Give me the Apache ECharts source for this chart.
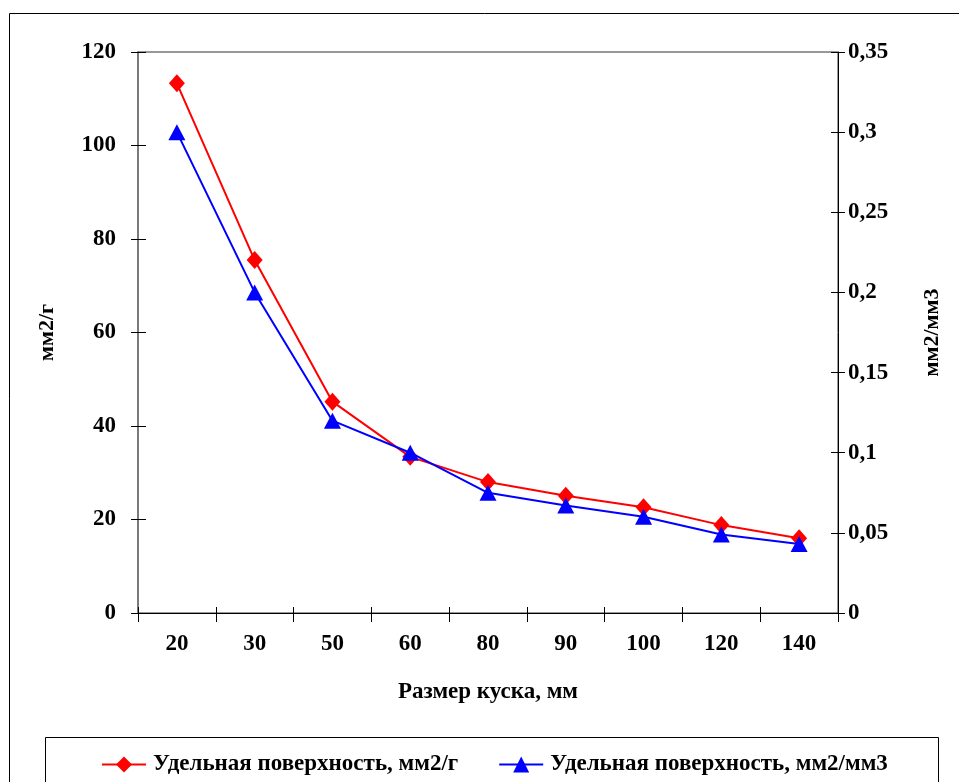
<!DOCTYPE html>
<html>
<head>
<meta charset="utf-8">
<script src="https://cdn.jsdelivr.net/npm/echarts@6/dist/echarts.min.js"></script>
<style>
  html, body { margin: 0; padding: 0; background: #fff; }
  #chart { width: 959px; height: 782px; }
</style>
</head>
<body>
<div id="chart"></div>
<script>
// Piece sizes, mm
const categories = ['20', '30', '50', '60', '80', '90', '100', '120', '140'];
// Specific surface per gram, mm2/g (left axis)
const surfacePerGram = [113.3, 75.5, 45.2, 33.4, 28.0, 25.1, 22.6, 18.8, 16.0];
// Specific surface per volume, mm2/mm3 (right axis)
const surfacePerVolume = [0.3, 0.2, 0.12, 0.1, 0.075, 0.067, 0.06, 0.049, 0.043];

const seriesNames = ['Удельная поверхность, мм2/г', 'Удельная поверхность, мм2/мм3'];
const xTitle = 'Размер куска, мм';
const leftTitle = 'мм2/г';
const rightTitle = 'мм2/мм3';

const FONT = '"Liberation Serif", "Times New Roman", serif';
const textBase = { fontFamily: FONT, fontWeight: 'bold', fontSize: 23, color: '#000' };

const chart = echarts.init(document.getElementById('chart'), null, { renderer: 'canvas' });

const commaFmt = v => String(v).replace('.', ',');

chart.setOption({
  animation: false,
  backgroundColor: '#fff',
  graphic: [
    // outer frame
    { type: 'rect', left: 7, top: 11, shape: { width: 980, height: 800 },
      style: { fill: 'none', stroke: '#000', lineWidth: 1 }, silent: true },
    // legend frame
    { type: 'rect', left: 45, top: 737, shape: { width: 893, height: 60 },
      style: { fill: '#fff', stroke: '#000', lineWidth: 1 }, silent: true, z: 0 }
  ],
  grid: {
    left: 138, right: 121, top: 52, bottom: 169,
    show: true, borderColor: '#333', borderWidth: 1
  },
  legend: {
    left: 96, top: 748, itemGap: 40, itemWidth: 44, itemHeight: 20,
    textStyle: Object.assign({}, textBase, { fontSize: 23, padding: [0, 0, 0, 2] }),
    data: seriesNames, z: 5
  },
  xAxis: [
    {
      type: 'category', data: categories, boundaryGap: true,
      axisLine: { lineStyle: { color: '#000', width: 1 } },
      axisTick: { show: true, length: 9, alignWithLabel: false, lineStyle: { color: '#000' } },
      axisLabel: Object.assign({}, textBase, { margin: 20 }),
      name: xTitle, nameLocation: 'middle', nameGap: 68,
      nameTextStyle: Object.assign({}, textBase)
    },
    {
      type: 'category', data: categories, position: 'bottom', boundaryGap: true,
      axisLine: { show: false },
      axisTick: { show: true, inside: true, length: 6, lineStyle: { color: '#000' } },
      axisLabel: { show: false }
    }
  ],
  yAxis: [
    {
      type: 'value', min: 0, max: 120, interval: 20, position: 'left',
      axisLine: { show: true, lineStyle: { color: '#7a7a7a', width: 2 } },
      axisTick: { show: true, length: 7, lineStyle: { color: '#000' } },
      splitLine: { show: false },
      axisLabel: Object.assign({}, textBase, { margin: 22 }),
      name: leftTitle, nameLocation: 'middle', nameGap: 80, nameRotate: 90,
      nameTextStyle: Object.assign({}, textBase, { fontSize: 22 })
    },
    {
      type: 'value', min: 0, max: 0.35, interval: 0.05, position: 'right',
      axisLine: { show: true, lineStyle: { color: '#000', width: 1 } },
      axisTick: { show: true, length: 7, lineStyle: { color: '#000' } },
      splitLine: { show: false },
      axisLabel: Object.assign({}, textBase, { margin: 10, formatter: commaFmt }),
      name: rightTitle, nameLocation: 'middle', nameGap: 83, nameRotate: 90,
      nameTextStyle: Object.assign({}, textBase, { fontSize: 22 })
    },
    {
      type: 'value', min: 0, max: 120, interval: 20, position: 'left',
      axisLine: { show: false },
      axisTick: { show: true, inside: true, length: 8, lineStyle: { color: '#000' } },
      axisLabel: { show: false }, splitLine: { show: false }
    },
    {
      type: 'value', min: 0, max: 0.35, interval: 0.05, position: 'right',
      axisLine: { show: false },
      axisTick: { show: true, inside: true, length: 7, lineStyle: { color: '#000' } },
      axisLabel: { show: false }, splitLine: { show: false }
    }
  ],
  series: [
    {
      name: seriesNames[0], type: 'line', yAxisIndex: 0, data: surfacePerGram,
      symbol: 'diamond', symbolSize: [16, 18], showAllSymbol: true,
      itemStyle: { color: '#ff0000' },
      lineStyle: { color: '#ff0000', width: 2 }, z: 3
    },
    {
      name: seriesNames[1], type: 'line', yAxisIndex: 1, data: surfacePerVolume,
      symbol: 'triangle', symbolSize: [17, 16], showAllSymbol: true,
      itemStyle: { color: '#0000ff' },
      lineStyle: { color: '#0000ff', width: 2 }, z: 4
    }
  ]
});
</script>
</body>
</html>
